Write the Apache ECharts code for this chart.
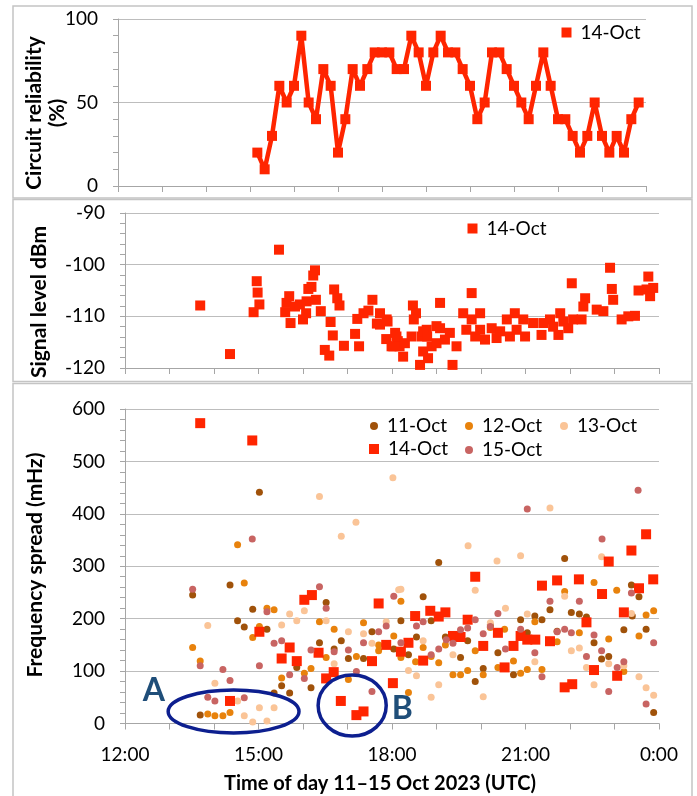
<!DOCTYPE html>
<html>
<head>
<meta charset="utf-8">
<script src="https://cdn.jsdelivr.net/npm/echarts@6/dist/echarts.min.js"></script>
<style>
html,body{margin:0;padding:0;background:#fff;}
#chart{width:697px;height:796px;}
</style>
</head>
<body>
<div id="chart"></div>
<script>
// ---------- DATA ----------
// Panel 1: circuit reliability, 14-Oct (time of day, %)
const relTimes = ["15:10","15:20","15:30","15:40","15:50","16:00","16:10","16:20","16:30","16:40","16:50","17:00","17:10","17:20","17:30","17:40","17:50","18:00","18:10","18:20","18:30","18:40","18:50","19:00","19:10","19:20","19:30","19:40","19:50","20:00","20:10","20:20","20:30","20:40","20:50","21:00","21:10","21:20","21:30","21:40","21:50","22:00","22:10","22:20","22:30","22:40","22:50","23:00","23:10","23:20","23:30","23:40","23:50"];
const relValues = [20,10,30,60,50,60,90,50,40,70,60,20,40,70,60,70,80,80,80,70,70,90,80,60,80,90,80,80,70,60,40,50,80,80,70,60,50,40,60,80,60,40,40,30,20,30,50,30,20,30,20,40,50];

// Panel 2: signal level dBm, 14-Oct  [hour of day, dBm]
const signal14 = [[13.69,-107.9],[14.36,-117.3],[14.96,-103.2],[14.98,-105.4],[15.02,-107.7],[14.89,-109.2],[15.46,-97.1],[15.6,-109.2],[15.63,-107.4],[15.69,-106.1],[15.72,-111.3],[15.82,-108.1],[15.93,-107.7],[16.0,-110.6],[16.07,-109.4],[16.08,-107.1],[16.12,-104.7],[16.19,-104.3],[16.23,-102.1],[16.27,-101.1],[16.29,-106.8],[16.4,-109.0],[16.49,-116.5],[16.59,-117.6],[16.62,-111.1],[16.67,-113.7],[16.7,-104.8],[16.77,-106.5],[16.82,-107.9],[16.92,-115.7],[17.17,-113.4],[17.22,-110.5],[17.26,-115.8],[17.36,-109.4],[17.47,-108.9],[17.56,-106.8],[17.66,-111.4],[17.73,-109.4],[17.87,-114.4],[17.9,-111.0],[17.99,-115.8],[18.07,-113.2],[18.13,-114.8],[17.73,-111.6],[17.88,-110.6],[18.03,-115.8],[18.1,-113.9],[18.17,-115.8],[18.25,-117.8],[18.47,-107.9],[18.54,-109.4],[18.49,-110.6],[18.63,-119.4],[18.67,-113.9],[18.7,-116.8],[18.78,-112.6],[18.81,-118.1],[18.89,-115.8],[19.0,-111.9],[19.0,-115.2],[19.08,-107.4],[18.29,-115.2],[18.44,-113.9],[18.7,-112.9],[18.79,-113.9],[19.08,-112.3],[19.19,-114.5],[19.3,-113.2],[19.36,-119.4],[19.45,-115.8],[19.6,-109.4],[19.67,-112.6],[19.79,-105.5],[19.79,-110.6],[19.87,-113.9],[19.98,-109.4],[19.98,-112.6],[20.09,-114.5],[20.24,-112.3],[20.35,-114.2],[20.43,-112.9],[20.58,-110.6],[20.65,-113.9],[20.76,-109.4],[20.8,-112.6],[20.95,-110.6],[20.99,-113.9],[21.17,-111.3],[21.36,-113.6],[21.4,-111.3],[21.55,-110.6],[21.62,-112.0],[21.74,-113.6],[21.78,-109.4],[21.85,-111.0],[21.96,-112.3],[22.04,-103.6],[22.07,-110.6],[22.26,-110.6],[22.3,-108.1],[22.34,-106.5],[22.6,-108.7],[22.75,-109.0],[22.9,-100.6],[22.94,-104.7],[22.97,-106.8],[23.16,-110.6],[23.31,-110.0],[23.46,-109.9],[23.54,-105.0],[23.72,-104.8],[23.76,-102.3],[23.8,-106.1],[23.87,-104.5]];

// Panel 3: frequency spread (mHz) per day  [hour of day, mHz]
const spread11 = [[13.52,245],[14.36,264],[14.53,196],[14.68,184],[14.87,218],[15.02,441],[15.19,180],[15.52,72],[15.7,58],[15.35,58],[15.86,107],[16.18,68],[16.52,231],[16.37,154],[16.7,142],[16.86,158],[17.02,124],[17.36,124],[17.55,175],[18.04,142],[13.69,16],[18.7,242],[18.2,196],[18.37,131],[18.55,165],[18.88,196],[19.05,307],[19.2,165],[19.54,126],[19.7,158],[19.87,80],[20.05,105],[20.21,188],[20.38,135],[20.73,93],[20.89,198],[21.04,173],[21.21,205],[21.37,198],[21.55,217],[21.71,176],[21.88,315],[22.03,212],[22.21,209],[22.37,203],[22.54,154],[22.71,123],[22.87,128],[23.21,179],[23.38,264],[23.4,205],[23.55,242],[23.71,180],[23.88,21]];
const spread12 = [[14.53,341],[14.68,268],[13.52,145],[13.69,119],[14.87,164],[15.02,185],[15.19,220],[15.35,217],[15.52,87],[16.03,96],[16.18,105],[16.37,194],[16.52,126],[16.7,180],[17.02,84],[17.2,128],[17.36,192],[17.7,150],[17.7,139],[18.04,167],[13.86,18],[14.02,15],[14.2,15],[14.36,21],[18.2,233],[18.2,126],[18.37,59],[18.7,145],[18.53,118],[18.88,128],[19.05,116],[19.2,150],[19.37,93],[19.54,93],[19.7,101],[19.87,139],[20.05,93],[20.21,183],[20.53,180],[20.38,107],[20.73,119],[20.89,96],[21.04,103],[21.21,194],[21.37,103],[21.71,156],[21.88,252],[22.21,173],[22.54,269],[22.87,161],[23.05,254],[23.21,99],[23.55,167],[23.71,207],[23.88,215]];
const spread13 = [[16.37,433],[16.86,357],[17.19,384],[18.02,469],[21.55,411],[19.71,339],[20.36,310],[20.89,320],[22.71,318],[13.86,187],[15.52,188],[15.7,209],[15.86,196],[16.03,215],[16.52,196],[16.7,114],[17.02,175],[17.36,171],[17.55,153],[17.87,194],[18.15,255],[14.02,77],[14.53,43],[14.68,15],[14.87,3],[15.02,30],[15.19,5],[15.35,30],[18.2,256],[18.37,101],[18.55,91],[18.7,158],[18.88,50],[19.05,74],[19.37,131],[19.87,254],[20.05,51],[20.21,192],[20.55,220],[21.04,209],[21.21,118],[21.88,243],[22.03,139],[22.21,144],[22.37,107],[22.54,74],[22.87,114],[23.21,110],[23.38,210],[23.55,89],[23.71,68],[23.88,54]];
const spread14 = [[13.69,573],[14.86,540],[14.36,43],[15.02,175],[15.52,124],[15.7,145],[15.86,119],[16.03,236],[16.2,245],[16.35,135],[16.52,86],[16.69,98],[16.85,43],[17.2,16],[17.36,23],[17.55,119],[17.7,229],[17.87,150],[18.02,77],[18.2,137],[18.37,154],[18.52,205],[18.7,120],[18.86,215],[19.05,204],[19.2,212],[19.37,167],[19.54,165],[19.7,198],[19.87,280],[20.05,148],[20.38,173],[20.53,107],[20.73,148],[20.89,167],[21.04,160],[21.22,160],[21.37,263],[21.55,157],[21.71,273],[21.88,69],[22.05,75],[22.2,275],[22.37,193],[22.54,102],[22.72,247],[22.87,309],[23.06,91],[23.21,212],[23.38,330],[23.55,258],[23.71,361],[23.87,275]];
const spread15 = [[14.86,352],[21.04,409],[23.53,445],[22.72,352],[13.52,256],[13.69,110],[15.19,213],[15.35,153],[15.52,158],[15.02,110],[15.7,93],[16.03,86],[16.18,140],[16.37,261],[16.52,220],[16.7,137],[17.02,140],[17.2,99],[17.36,154],[17.55,61],[17.7,175],[17.87,186],[18.04,243],[13.86,50],[14.02,43],[14.2,103],[14.36,82],[14.68,49],[18.2,154],[18.55,186],[18.7,194],[18.88,131],[19.05,142],[19.22,160],[19.37,153],[19.54,179],[19.7,182],[19.87,198],[20.05,171],[20.21,185],[20.38,210],[20.55,142],[20.89,180],[21.21,135],[21.37,89],[21.55,233],[21.71,175],[21.88,180],[22.03,173],[22.21,233],[22.37,128],[22.54,169],[22.71,139],[22.87,61],[23.06,107],[23.21,118],[23.38,249],[23.71,37],[23.88,154]];

const dayNames = ["11-Oct","12-Oct","13-Oct","14-Oct","15-Oct"];
const xTickLabels = {12:"12:00",15:"15:00",18:"18:00",21:"21:00",24:"0:00"};
// annotation ellipses in data units (hours, mHz)
const annotations = [
  {label:"A", h0:12.97, h1:15.91, v0:-18, v1:64, lh:12.65, lv:63},
  {label:"B", h0:16.34, h1:17.87, v0:-24, v1:92.6, lh:18.23, lv:28}
];

// ---------- STYLE ----------
const FONT = 'Lato, "Open Sans", sans-serif';
const AXIS_C = '#a6a6a6';
const GRID_C = '#bdbdbd';
const colors = {"11-Oct":"#A0520A","12-Oct":"#E8820C","13-Oct":"#FAC497","14-Oct":"#FF2500","15-Oct":"#C86462"};

function toHour(s){const p=s.split(':');return +p[0]+(+p[1])/60;}
const relData = relTimes.map((t,i)=>[toHour(t), relValues[i]]);

function xAxisCfg(gridIndex, showLabels){
  return {
    type:'value', gridIndex, min:12, max:24, interval:1,
    splitLine:{show:false},
    axisLine:{show:true, onZero:false, lineStyle:{color:AXIS_C, width:1}},
    axisTick:{show:true, length:6, lineStyle:{color:AXIS_C}},
    axisLabel:{show:showLabels, margin:22, color:'#000', fontSize:19, fontFamily:FONT,
      hideOverlap:false, showMinLabel:true, showMaxLabel:true,
      formatter:v=> (xTickLabels[v]!==undefined ? xTickLabels[v] : '')}
  };
}
function yAxisCfg(gridIndex, min, max, interval){
  return {
    type:'value', gridIndex, min, max, interval,
    axisLine:{show:true, lineStyle:{color:AXIS_C, width:1}},
    axisTick:{show:true, length:5, lineStyle:{color:AXIS_C}},
    minorTick:{show:true, splitNumber:5, length:5, lineStyle:{color:AXIS_C}},
    splitLine:{show:true, lineStyle:{color:GRID_C, width:1}},
    axisLabel:{margin:20, color:'#000', fontSize:19, fontFamily:FONT}
  };
}
function legendItem(name, icon, size, cx, cy){
  return {
    show:true, left:cx - size/2, top:cy - 11, padding:0, itemGap:0,
    orient:'horizontal', itemWidth:size, itemHeight:size,
    selectedMode:true,
    data:[{name, icon}],
    textStyle:{fontSize:19, fontFamily:FONT, color:'#000', lineHeight:22, padding:[0,0,0,4]}
  };
}

const chart = echarts.init(document.getElementById('chart'), null, {renderer:'canvas'});

const option = {
  backgroundColor:'#fff',
  animation:false,
  grid:[
    {left:118, top:19, width:528, height:167},
    {left:125, top:213, width:534, height:155},
    {left:125, top:409, width:534, height:314.5}
  ],
  xAxis:[xAxisCfg(0,false), xAxisCfg(1,false), xAxisCfg(2,true)],
  yAxis:[yAxisCfg(0,0,100,50), yAxisCfg(1,-120,-90,10), yAxisCfg(2,0,600,100)],
  legend:[
    legendItem('14-Oct','rect',10,566.5,32.5),
    legendItem('14-Oct','rect',10,472.5,228.5),
    legendItem('11-Oct','circle',8,374,426),
    legendItem('12-Oct','circle',8,469,426),
    legendItem('13-Oct','circle',8,564,426),
    legendItem('14-Oct','rect',10,374,449),
    legendItem('15-Oct','circle',8,469,450)
  ],
  series:[
    {name:'14-Oct', type:'line', xAxisIndex:0, yAxisIndex:0, data:relData,
     symbol:'rect', symbolSize:10, showAllSymbol:true,
     itemStyle:{color:colors['14-Oct'], opacity:1}, lineStyle:{color:colors['14-Oct'], width:4.5}},
    {name:'14-Oct', type:'scatter', xAxisIndex:1, yAxisIndex:1, data:signal14,
     symbol:'rect', symbolSize:10, itemStyle:{color:colors['14-Oct'], opacity:1}},
    ...[spread11,spread12,spread13,spread14,spread15].map((d,i)=>({
      name:dayNames[i], type:'scatter', xAxisIndex:2, yAxisIndex:2, data:d,
      symbol: dayNames[i]==='14-Oct' ? 'rect':'circle',
      symbolSize: dayNames[i]==='14-Oct' ? 10 : 7,
      itemStyle:{color:colors[dayNames[i]], opacity:1}
    }))
  ]
};
chart.setOption(option);

// ---------- decorations: panel frames, axis titles, annotations ----------
function px(p){return chart.convertToPixel({gridIndex:2}, p);}
const graphics = [
  {type:'rect', shape:{x:13,y:6,width:679,height:192}, style:{fill:'none', stroke:'#c4c4c4', lineWidth:1.5}, silent:true},
  {type:'rect', shape:{x:13,y:199.5,width:679,height:182}, style:{fill:'none', stroke:'#c4c4c4', lineWidth:1.5}, silent:true},
  {type:'rect', shape:{x:13,y:383.5,width:679,height:420}, style:{fill:'none', stroke:'#c4c4c4', lineWidth:1.5}, silent:true},
  {type:'text', x:46, y:113, rotation:Math.PI/2,
   style:{text:'Circuit reliability\n(%)', fontSize:21, fontWeight:'bold', fontFamily:FONT, fill:'#000', align:'center', verticalAlign:'middle', lineHeight:23}},
  {type:'text', x:39, y:302, rotation:Math.PI/2,
   style:{text:'Signal level dBm', fontSize:21, fontWeight:'bold', fontFamily:FONT, fill:'#000', align:'center', verticalAlign:'middle'}},
  {type:'text', x:35, y:565, rotation:Math.PI/2,
   style:{text:'Frequency spread (mHz)', fontSize:21, fontWeight:'bold', fontFamily:FONT, fill:'#000', align:'center', verticalAlign:'middle'}},
  {type:'text', x:380, y:784,
   style:{text:'Time of day 11–15 Oct 2023 (UTC)', fontSize:20, fontWeight:'bold', fontFamily:FONT, fill:'#000', align:'center', verticalAlign:'middle'}}
];
annotations.forEach(a=>{
  const p0 = px([a.h0, a.v1]), p1 = px([a.h1, a.v0]);
  graphics.push({type:'ellipse', silent:true, z:100,
    shape:{cx:(p0[0]+p1[0])/2, cy:(p0[1]+p1[1])/2, rx:Math.abs(p1[0]-p0[0])/2, ry:Math.abs(p1[1]-p0[1])/2},
    style:{fill:'none', stroke:'#0D1F8F', lineWidth:3.5}});
  const lp = px([a.lh, a.lv]);
  graphics.push({type:'text', x:lp[0], y:lp[1], z:100,
    style:{text:a.label, fontSize:32, fontWeight:'bold', fontFamily:FONT, fill:'#1F4E79', align:'center', verticalAlign:'middle'}});
});
chart.setOption({graphic:graphics});
</script>
</body>
</html>
